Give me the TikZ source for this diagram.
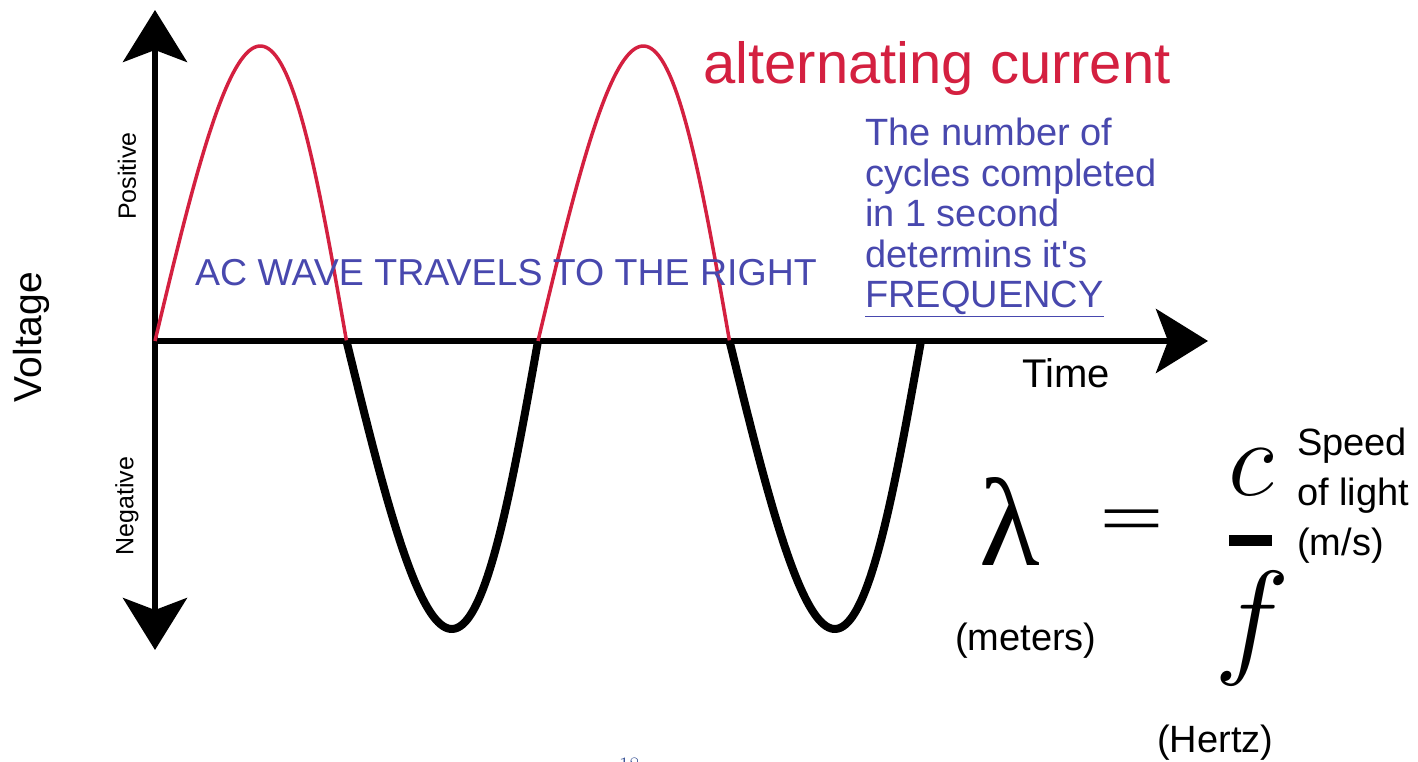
\RequirePackage{fix-cm}
\documentclass[tikz,border=0pt]{standalone}
\usepackage{fontspec}
\usepackage{tikz}
\usetikzlibrary{arrows.meta}
\newfontfamily\arialf{Liberation Sans}
\newfontfamily\timesf{Liberation Serif}
\definecolor{cred}{HTML}{D42040}
\definecolor{cblue}{HTML}{4848AE}
\definecolor{cpage}{HTML}{1F3C88}

\begin{document}
\begin{tikzpicture}[x=1pt,y=-1pt,>={Stealth[length=52pt,width=64pt,inset=12pt]},
    axis/.style={line width=6pt,black},
    upwave/.style={line width=3.5pt,cred},
    downwave/.style={line width=8pt,black,line join=round},
    lbl/.style={font=\arialf\fontsize{38}{40}\selectfont,inner sep=0pt},
    side/.style={font=\arialf\fontsize{25}{27}\selectfont,inner sep=0pt,rotate=90},
    eqn/.style={inner sep=0pt,anchor=base}]
    \useasboundingbox (0,0) rectangle (1418,762);
    \clip (0,0) rectangle (1418,762);
    \fill[white] (0,0) rectangle (1418,762);
    % axes
    \coordinate (O) at (155,341);
    \coordinate (ytop) at (155,10);
    \coordinate (ybot) at (155,650);
    \coordinate (xend) at (1208,341);
    \draw[axis,<->] (ybot) -- (ytop);
    \draw[axis,->] (O) -- (xend);
    % wave, positive halves red, negative halves black (peaks lean a bit right)
    \foreach \s in {0,2}{
      \draw[upwave] plot[domain=0:1,samples=80,smooth]
        ({155+191.5*(\s+\x+0.05*sin(180*\x))},{341-295*sin(180*\x)});
    }
    \foreach \s in {1,3}{
      \draw[downwave] plot[domain=0:1,samples=80,smooth]
        ({155+191.5*(\s+\x+0.05*sin(180*\x))},{341+288*sin(180*\x)});
    }
    % axis labels
    \node[lbl,font=\arialf\fontsize{39}{42}\selectfont,rotate=90] (volt) at (31,337) {Voltage};
    \node[side] (pos) at (127,176) {Positive};
    \node[side] (neg) at (127,506) {Negative};
    \node[lbl,font=\arialf\fontsize{40}{42}\selectfont,anchor=base west] (time) at (1022,387) {Time};
    % titles and notes
    \node[lbl,font=\arialf\fontsize{58}{60}\selectfont,text=cred,anchor=base west] (title) at (703,84) {alternating current};
    \node[lbl,font=\arialf\fontsize{37.5}{40}\selectfont,text=cblue,anchor=base west] (travel) at (195,285) {AC WAVE TRAVELS TO THE RIGHT};
    \node[lbl,font=\arialf\fontsize{38}{40.5}\selectfont,text=cblue,align=left,anchor=north west] (note) at (865,118)
      {The number of\\cycles completed\\in 1 second\\determins it's\\\underline{FREQUENCY}};
    % wavelength formula
    \node[eqn,font=\timesf\fontsize{125}{125}\selectfont] (lam) at (1010,565) {λ};
    \node[eqn,font=\timesf\fontsize{115}{115}\selectfont,yscale=0.62] (eq) at (1132,542) {=};
    \node[eqn,font=\fontsize{108}{108}\selectfont] (c) at (1251,495) {$c$};
    \node[eqn,font=\fontsize{128}{128}\selectfont] (f) at (1252,660) {$f$};
    \fill (1229,535) rectangle (1272,546);
    \node[lbl,font=\arialf\fontsize{38}{50}\selectfont,align=left,anchor=north west] (speed) at (1297,428)
      {Speed\\of light\\(m/s)};
    \node[lbl,anchor=base west] (meters) at (955,650) {(meters)};
    \node[lbl,anchor=base west] (hertz) at (1157,752) {(Hertz)};
    % page number
    \node[inner sep=0pt,font=\fontsize{22}{24}\selectfont,text=cpage,anchor=base west] (page) at (619,772) {18};
\end{tikzpicture}
\end{document}
